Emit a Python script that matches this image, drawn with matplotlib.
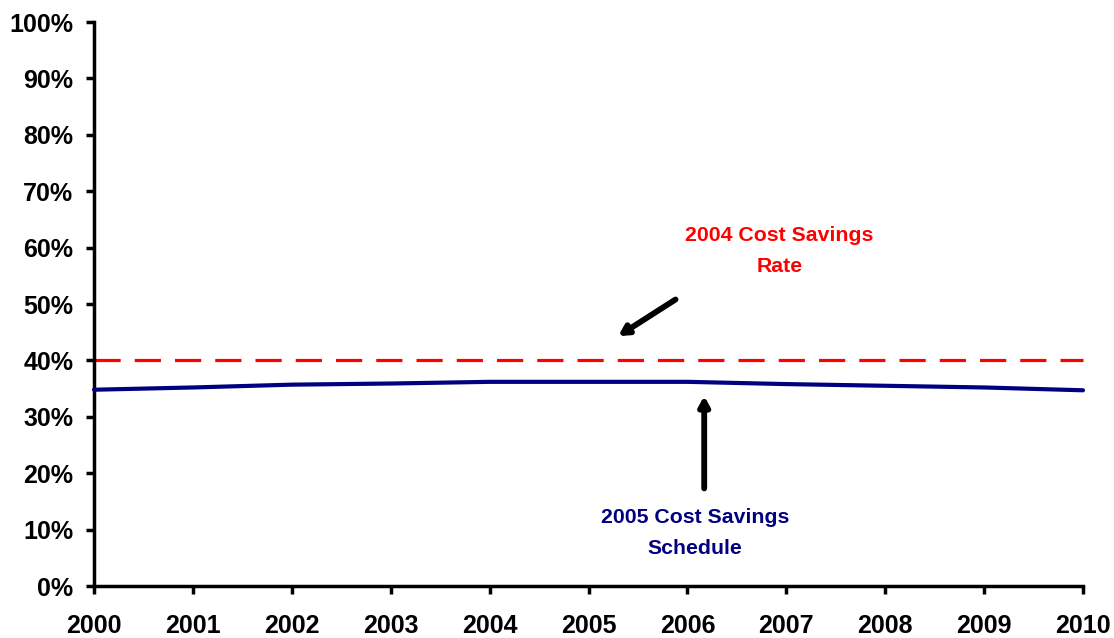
import matplotlib
matplotlib.use("Agg")
import matplotlib.pyplot as plt
from matplotlib.ticker import FuncFormatter, MultipleLocator

plt.rcParams['font.family'] = ['Liberation Sans', 'DejaVu Sans']

years = [2000, 2001, 2002, 2003, 2004, 2005, 2006, 2007, 2008, 2009, 2010]
schedule_2005 = [34.8, 35.2, 35.7, 35.9, 36.2, 36.2, 36.2, 35.8, 35.5, 35.2, 34.7]
rate_2004 = 40.0

fig = plt.figure(figsize=(11.14, 6.38), dpi=100)
ax = fig.add_axes([94 / 1114, 52 / 638, (1083 - 94) / 1114, (586 - 22) / 638])

ax.axhline(rate_2004, color='#ff0000', lw=2.3, linestyle=(0, (8.2, 4.4)), zorder=2)
ax.plot(years, schedule_2005, color='#000080', lw=3.0, solid_capstyle='round', zorder=3)

ax.set_xlim(2000, 2010)
ax.set_ylim(0, 100)
ax.xaxis.set_major_locator(MultipleLocator(1))
ax.yaxis.set_major_locator(MultipleLocator(10))
ax.yaxis.set_major_formatter(FuncFormatter(lambda v, p: f"{v:.0f}%"))

for s in ('top', 'right'):
    ax.spines[s].set_visible(False)
for s in ('left', 'bottom'):
    ax.spines[s].set_linewidth(2.5)
    ax.spines[s].set_color('black')
ax.tick_params(axis='both', direction='out', length=6, width=2.5, color='black',
               labelsize=18)
ax.tick_params(axis='y', pad=9)
ax.tick_params(axis='x', pad=14)
for lbl in ax.get_xticklabels() + ax.get_yticklabels():
    lbl.set_fontweight('bold')
for ln in ax.lines:
    ln.set_clip_on(False)

arrow_style = dict(arrowstyle='-|>,head_length=0.55,head_width=0.3',
                   color='black', lw=4.2, shrinkA=0, shrinkB=0)
ax.annotate('', xy=(2005.3, 44.3), xytext=(2005.88, 50.8), arrowprops=arrow_style)
ax.annotate('', xy=(2006.17, 33.7), xytext=(2006.17, 17.3), arrowprops=arrow_style)

ax.text(2006.93, 59.4, '2004 Cost Savings\nRate', color='#ff0000', fontsize=15.3,
        fontweight='bold', ha='center', va='center', linespacing=1.75)
ax.text(2006.08, 9.4, '2005 Cost Savings\nSchedule', color='#000080', fontsize=15.3,
        fontweight='bold', ha='center', va='center', linespacing=1.75)

fig.savefig('out.png', dpi=100)
